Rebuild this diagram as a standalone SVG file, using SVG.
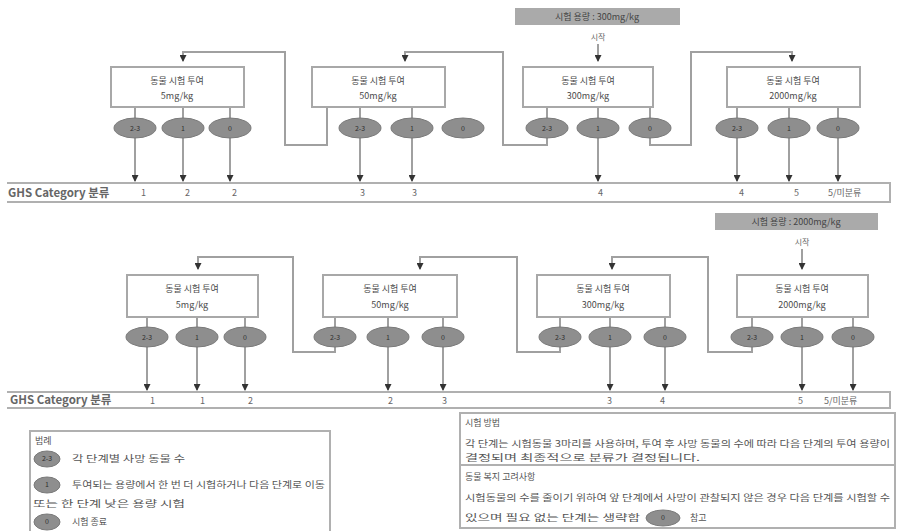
<svg xmlns="http://www.w3.org/2000/svg" width="904" height="531" viewBox="0 0 904 531">
<defs>
<marker id="ah" markerUnits="userSpaceOnUse" markerWidth="7" markerHeight="7" refX="6" refY="3.5" orient="auto"><path d="M0,0 L7,3.5 L0,7 z" fill="#333"/></marker>
<style>
text{font-family:"Noto Sans CJK KR","Noto Sans",sans-serif;fill:#555;}
.box{fill:#fff;stroke:#a8a8a8;stroke-width:2;}
.bt{font-size:9px;text-anchor:middle;fill:#4a4a4a;}
.ell{fill:#8e8e8e;stroke:#7a7a7a;stroke-width:1;}
.et{font-size:7px;text-anchor:middle;fill:#2e2e2e;}
.ln{fill:none;stroke:#a0a0a0;stroke-width:2;}
.ar{fill:none;stroke:#a0a0a0;stroke-width:2;marker-end:url(#ah);}
.bar{fill:none;stroke:#b0b0b0;stroke-width:2;}
.cat{font-size:9px;fill:#666;}
.ghs{font-size:11.5px;font-weight:bold;fill:#666;}
.lab{fill:#aaaaaa;}
.lt{font-size:9px;text-anchor:middle;fill:#444;}
.st{font-size:8px;text-anchor:middle;fill:#666;}
.tx{font-size:9px;fill:#555;}
</style>
</defs>
<rect width="904" height="531" fill="#fff"/>

<g id="connectors">
<path class="ar" d="M598,44 V61"/>
<path class="ar" d="M327,107 V145 H285 V52 H183 V61"/>
<path class="ar" d="M547,138 V145 H503 V52 H405 V61"/>
<path class="ar" d="M650,138 V145 H691 V52 H792 V61"/>
<path class="ln" d="M135,107 V118 M183,107 V118 M230,107 V118 M360,107 V118 M412,107 V118 M547,107 V118 M598,107 V118 M650,107 V118 M737,107 V118 M789,107 V118 M838,107 V118"/>
<path class="ar" d="M135,138 V181"/>
<path class="ar" d="M183,138 V181"/>
<path class="ar" d="M230,138 V181"/>
<path class="ar" d="M360,138 V181"/>
<path class="ar" d="M412,138 V181"/>
<path class="ar" d="M598,138 V181"/>
<path class="ar" d="M737,138 V181"/>
<path class="ar" d="M789,138 V181"/>
<path class="ar" d="M838,138 V181"/>
<path class="ar" d="M802,249 V269"/>
<path class="ar" d="M335,347 V352 H293 V257 H198 V269"/>
<path class="ar" d="M560,347 V352 H517 V257 H420 V269"/>
<path class="ar" d="M752,347 V352 H708 V257 H612 V269"/>
<path class="ln" d="M147,317 V327 M197,317 V327 M245,317 V327 M335,317 V327 M388,317 V327 M443,317 V327 M560,317 V327 M610,317 V327 M665,317 V327 M752,317 V327 M802,317 V327 M853,317 V327"/>
<path class="ar" d="M147,347 V390"/>
<path class="ar" d="M197,347 V390"/>
<path class="ar" d="M245,347 V390"/>
<path class="ar" d="M388,347 V390"/>
<path class="ar" d="M443,347 V390"/>
<path class="ar" d="M610,347 V390"/>
<path class="ar" d="M665,347 V390"/>
<path class="ar" d="M802,347 V390"/>
<path class="ar" d="M853,347 V390"/>
</g>

<g id="start1">
<rect class="lab" x="515" y="8" width="165" height="17"/>
<text class="lt" x="597" y="20">시험 용량 : 300mg/kg</text>
<text class="st" x="598" y="40">시작</text>
</g>
<g id="start2">
<rect class="lab" x="715" y="213" width="163" height="17"/>
<text class="lt" x="796" y="225">시험 용량 : 2000mg/kg</text>
<text class="st" x="802" y="245">시작</text>
</g>

<g id="step-t1">
<rect class="box" x="111" y="67" width="133" height="40"/>
<text class="bt" x="177" y="84">동물 시험 투여</text>
<text class="bt" x="177" y="99">5mg/kg</text>
<ellipse class="ell" cx="135" cy="128" rx="21" ry="10"/><text class="et" x="135" y="131">2-3</text>
<ellipse class="ell" cx="183" cy="128" rx="21" ry="10"/><text class="et" x="183" y="131">1</text>
<ellipse class="ell" cx="230" cy="128" rx="21" ry="10"/><text class="et" x="230" y="131">0</text>
</g>
<g id="step-t2">
<rect class="box" x="312" y="67" width="133" height="40"/>
<text class="bt" x="378" y="84">동물 시험 투여</text>
<text class="bt" x="378" y="99">50mg/kg</text>
<ellipse class="ell" cx="360" cy="128" rx="21" ry="10"/><text class="et" x="360" y="131">2-3</text>
<ellipse class="ell" cx="412" cy="128" rx="21" ry="10"/><text class="et" x="412" y="131">1</text>
<ellipse class="ell" cx="463" cy="128" rx="21" ry="10"/><text class="et" x="463" y="131">0</text>
</g>
<g id="step-t3">
<rect class="box" x="523" y="67" width="130" height="40"/>
<text class="bt" x="588" y="84">동물 시험 투여</text>
<text class="bt" x="588" y="99">300mg/kg</text>
<ellipse class="ell" cx="547" cy="128" rx="21" ry="10"/><text class="et" x="547" y="131">2-3</text>
<ellipse class="ell" cx="598" cy="128" rx="21" ry="10"/><text class="et" x="598" y="131">1</text>
<ellipse class="ell" cx="650" cy="128" rx="21" ry="10"/><text class="et" x="650" y="131">0</text>
</g>
<g id="step-t4">
<rect class="box" x="727" y="67" width="133" height="40"/>
<text class="bt" x="793" y="84">동물 시험 투여</text>
<text class="bt" x="793" y="99">2000mg/kg</text>
<ellipse class="ell" cx="737" cy="128" rx="21" ry="10"/><text class="et" x="737" y="131">2-3</text>
<ellipse class="ell" cx="789" cy="128" rx="21" ry="10"/><text class="et" x="789" y="131">1</text>
<ellipse class="ell" cx="838" cy="128" rx="21" ry="10"/><text class="et" x="838" y="131">0</text>
</g>

<g id="bar-top">
<path class="bar" d="M7,183 H890 V202 H7"/>
<text class="ghs" x="8" y="197">GHS Category 분류</text>
<text class="cat" x="141" y="196">1</text>
<text class="cat" x="185" y="196">2</text>
<text class="cat" x="232" y="196">2</text>
<text class="cat" x="360" y="196">3</text>
<text class="cat" x="412" y="196">3</text>
<text class="cat" x="598" y="196">4</text>
<text class="cat" x="739" y="196">4</text>
<text class="cat" x="794" y="196">5</text>
<text class="cat" x="828" y="196">5/미분류</text>
</g>

<g id="step-b1">
<rect class="box" x="127" y="275" width="131" height="42"/>
<text class="bt" x="192" y="292">동물 시험 투여</text>
<text class="bt" x="192" y="308">5mg/kg</text>
<ellipse class="ell" cx="147" cy="337" rx="21" ry="10"/><text class="et" x="147" y="340">2-3</text>
<ellipse class="ell" cx="197" cy="337" rx="21" ry="10"/><text class="et" x="197" y="340">1</text>
<ellipse class="ell" cx="245" cy="337" rx="21" ry="10"/><text class="et" x="245" y="340">0</text>
</g>
<g id="step-b2">
<rect class="box" x="323" y="275" width="134" height="42"/>
<text class="bt" x="390" y="292">동물 시험 투여</text>
<text class="bt" x="390" y="308">50mg/kg</text>
<ellipse class="ell" cx="335" cy="337" rx="21" ry="10"/><text class="et" x="335" y="340">2-3</text>
<ellipse class="ell" cx="388" cy="337" rx="21" ry="10"/><text class="et" x="388" y="340">1</text>
<ellipse class="ell" cx="443" cy="337" rx="21" ry="10"/><text class="et" x="443" y="340">0</text>
</g>
<g id="step-b3">
<rect class="box" x="537" y="275" width="133" height="42"/>
<text class="bt" x="603" y="292">동물 시험 투여</text>
<text class="bt" x="603" y="308">300mg/kg</text>
<ellipse class="ell" cx="560" cy="337" rx="21" ry="10"/><text class="et" x="560" y="340">2-3</text>
<ellipse class="ell" cx="610" cy="337" rx="21" ry="10"/><text class="et" x="610" y="340">1</text>
<ellipse class="ell" cx="665" cy="337" rx="21" ry="10"/><text class="et" x="665" y="340">0</text>
</g>
<g id="step-b4">
<rect class="box" x="737" y="275" width="131" height="42"/>
<text class="bt" x="802" y="292">동물 시험 투여</text>
<text class="bt" x="802" y="308">2000mg/kg</text>
<ellipse class="ell" cx="752" cy="337" rx="21" ry="10"/><text class="et" x="752" y="340">2-3</text>
<ellipse class="ell" cx="802" cy="337" rx="21" ry="10"/><text class="et" x="802" y="340">1</text>
<ellipse class="ell" cx="853" cy="337" rx="21" ry="10"/><text class="et" x="853" y="340">0</text>
</g>

<g id="bar-bottom">
<path class="bar" d="M7,392 H890 V408 H7"/>
<text class="ghs" x="10" y="404">GHS Category 분류</text>
<text class="cat" x="150" y="404">1</text>
<text class="cat" x="200" y="404">1</text>
<text class="cat" x="248" y="404">2</text>
<text class="cat" x="388" y="404">2</text>
<text class="cat" x="442" y="404">3</text>
<text class="cat" x="607" y="404">3</text>
<text class="cat" x="660" y="404">4</text>
<text class="cat" x="798" y="404">5</text>
<text class="cat" x="824" y="404">5/미분류</text>
</g>

<g id="legend">
<rect x="30" y="431" width="300" height="110" fill="#fff" stroke="#b0b0b0" stroke-width="2"/>
<text class="tx" x="35" y="444">범례</text>
<ellipse class="ell" cx="47" cy="459" rx="13" ry="8"/><text class="et" x="47" y="461">2-3</text>
<text class="tx" x="72" y="462" textLength="113" lengthAdjust="spacingAndGlyphs">각 단계별 사망 동물 수</text>
<ellipse class="ell" cx="47" cy="485" rx="13" ry="8"/><text class="et" x="47" y="487">1</text>
<text class="tx" x="72" y="488" textLength="253" lengthAdjust="spacingAndGlyphs">투여되는 용량에서 한 번 더 시험하거나 다음 단계로 이동</text>
<text class="tx" x="33" y="507" textLength="152" lengthAdjust="spacingAndGlyphs">또는 한 단계 낮은 용량 시험</text>
<ellipse class="ell" cx="47" cy="522" rx="13" ry="8"/><text class="et" x="47" y="524">0</text>
<text class="tx" x="72" y="525">시험 종료</text>
</g>

<g id="notes">
<rect x="460" y="413" width="435" height="115" fill="#fff" stroke="#b0b0b0" stroke-width="2"/>
<line x1="460" y1="465" x2="895" y2="465" stroke="#b0b0b0" stroke-width="2"/>
<text class="tx" x="465" y="426">시험 방법</text>
<text class="tx" x="465" y="447" textLength="425" lengthAdjust="spacingAndGlyphs">각 단계는 시험동물 3마리를 사용하며, 투여 후 사망 동물의 수에 따라 다음 단계의 투여 용량이</text>
<text class="tx" x="465" y="461" textLength="235" lengthAdjust="spacingAndGlyphs">결정되며 최종적으로 분류가 결정됩니다.</text>
<text class="tx" x="465" y="480">동물 복지 고려사항</text>
<text class="tx" x="465" y="501" textLength="425" lengthAdjust="spacingAndGlyphs">시험동물의 수를 줄이기 위하여 앞 단계에서 사망이 관찰되지 않은 경우 다음 단계를 시험할 수</text>
<text class="tx" x="465" y="521" textLength="175" lengthAdjust="spacingAndGlyphs">있으며 필요 없는 단계는 생략함</text>
<ellipse class="ell" cx="663" cy="518" rx="17" ry="8"/><text class="et" x="663" y="520">0</text>
<text class="tx" x="690" y="521">참고</text>
</g>
</svg>
